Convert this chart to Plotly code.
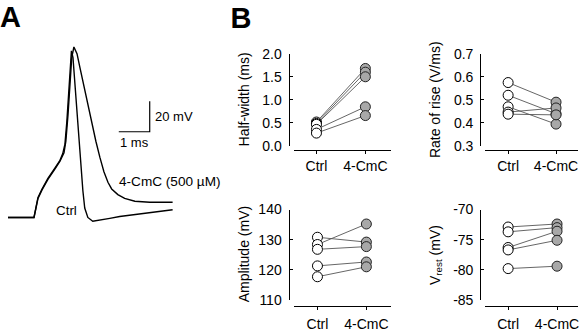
import plotly.graph_objects as go

W, H = 583, 333

# ---------------- Panel A: action potentials (time in ms, voltage in mV) ----------------
ctrl_t = [0, 0.84, 0.90, 0.97, 1.10, 1.29, 1.52, 1.68, 1.77, 1.84, 1.90, 1.97, 2.02, 2.05,
          2.10, 2.16, 2.23, 2.29, 2.35, 2.42, 2.48, 2.58, 2.74, 2.97, 3.29, 3.61, 4.10, 4.58,
          4.90, 5.32]
ctrl_v = [-75, -75, -68.8, -61.9, -56.3, -49.4, -42.5, -37.5, -33.1, -26.9, -12.5, 9.4, 26.3,
          34.4, 30.0, 12.5, -3.1, -21.9, -40.6, -57.5, -68.8, -75.0, -77.5, -76.9, -75.6, -74.4,
          -73.1, -71.9, -71.3, -70.0]
cmc_t = [0, 0.84, 0.90, 0.97, 1.10, 1.29, 1.52, 1.68, 1.81, 1.87, 1.94, 2.00, 2.06, 2.13,
         2.23, 2.32, 2.45, 2.58, 2.71, 2.84, 2.97, 3.10, 3.23, 3.35, 3.55, 3.77, 4.10, 4.58,
         5.32]
cmc_v = [-75, -75, -69.4, -62.5, -56.9, -50.0, -43.1, -38.1, -32.5, -25.0, -7.5, 12.5, 30.0,
         36.9, 32.5, 23.8, 11.3, -1.3, -13.8, -25.0, -35.6, -45.0, -51.9, -56.3, -60.0, -62.5,
         -64.4, -65.0, -65.0]
scale_ms = 1
scale_mv = 20

# ---------------- Panel B: paired measurements ----------------
conditions = ["Ctrl", "4-CmC"]
halfwidth_ctrl = [0.52, 0.49, 0.47, 0.36, 0.28]
halfwidth_cmc = [1.68, 1.60, 1.50, 0.85, 0.66]
rise_ctrl = [0.575, 0.52, 0.47, 0.447, 0.438]
rise_cmc = [0.49, 0.44, 0.395, 0.465, 0.435]
amp_ctrl = [130.8, 128.4, 126.8, 121.3, 117.7]
amp_cmc = [129.2, 135.2, 127.7, 122.6, 121.0]
vrest_ctrl = [-72.9, -73.7, -76.3, -76.7, -79.8]
vrest_cmc = [-72.4, -73.0, -73.6, -75.1, -79.4]

hw_ticks = [0.0, 0.5, 1.0, 1.5, 2.0]
rise_ticks = [0.3, 0.4, 0.5, 0.6, 0.7]
amp_ticks = [110, 120, 130, 140]
vrest_ticks = [-85, -80, -75, -70]
vrest_ticktext = ["-85", "-80", "-75", "-70"]

FONT = "Arial, Liberation Sans, sans-serif"


def px(x):
    return x / W


def py(y):
    return 1 - y / H


# pixel -> panel A data coordinates (31 px per ms, 1.6 px per mV)
def a_t(xpix):
    return (xpix - 8) / 31


def a_v(ypix):
    return -75 + (220 - ypix) * 0.625


fig = go.Figure()

# Panel A traces
fig.add_trace(go.Scatter(x=ctrl_t, y=ctrl_v, mode="lines", line=dict(color="black", width=1.4),
                         xaxis="x", yaxis="y", showlegend=False, hoverinfo="skip"))
fig.add_trace(go.Scatter(x=cmc_t, y=cmc_v, mode="lines", line=dict(color="black", width=1.4),
                         xaxis="x", yaxis="y", showlegend=False, hoverinfo="skip"))
bar_t0, bar_v0 = 3.58, -18.75
fig.add_trace(go.Scatter(x=[bar_t0, bar_t0 + scale_ms, bar_t0 + scale_ms],
                         y=[bar_v0, bar_v0, bar_v0 + scale_mv], mode="lines",
                         line=dict(color="black", width=1.2), xaxis="x", yaxis="y",
                         showlegend=False, hoverinfo="skip"))

# Panel letters as text marks (annotations get pushed inside the paper)
fig.add_trace(go.Scatter(x=[a_t(0), a_t(231)], y=[a_v(12), a_v(13)], mode="text",
                         text=["<b>A</b>", "<b>B</b>"], textposition="middle right",
                         textfont=dict(size=29, family=FONT, color="black"),
                         cliponaxis=False, xaxis="x", yaxis="y", showlegend=False,
                         hoverinfo="skip"))

layout = dict(
    width=W, height=H, margin=dict(l=0, r=0, t=0, b=0, pad=0),
    paper_bgcolor="white", plot_bgcolor="rgba(0,0,0,0)", showlegend=False,
    font=dict(family=FONT, size=13, color="black"),
    xaxis=dict(domain=[0, px(270)], range=[a_t(0), a_t(270)], visible=False),
    yaxis=dict(domain=[py(240), 1], range=[a_v(240), a_v(0)], visible=False),
)

annotations = [
    dict(text="20 mV", x=bar_t0 + scale_ms + 0.12, y=bar_v0 + scale_mv / 2, xref="x", yref="y",
         xanchor="left", yanchor="middle", showarrow=False, font=dict(size=13)),
    dict(text="1 ms", x=bar_t0 + scale_ms / 2, y=bar_v0 - 7, xref="x", yref="y",
         xanchor="center", yanchor="middle", showarrow=False, font=dict(size=13)),
    dict(text="4-CmC (500 µM)", x=3.52, y=-51.3, xref="x", yref="y",
         xanchor="left", yanchor="middle", showarrow=False, font=dict(size=13.6)),
    dict(text="Ctrl", x=1.90, y=-70.6, xref="x", yref="y",
         xanchor="center", yanchor="middle", showarrow=False, font=dict(size=13.4)),
]

panels = [
    # (ctrl, cmc, ticks, ticktext, range, fmt, title, yaxis x px, y top px, y bottom px,
    #  xline y px, x left px, x right px, ctrl x px, cmc x px, xlabel standoff)
    (halfwidth_ctrl, halfwidth_cmc, hw_ticks, None, [0, 2.0], ".1f", "Half-width (ms)",
     289, 48, 145, 149, 295, 392, 317, 366, 0),
    (rise_ctrl, rise_cmc, rise_ticks, None, [0.3, 0.7], ".1f", "Rate of rise (V/ms)",
     481, 48, 145, 149, 486, 579, 509, 557, 0),
    (amp_ctrl, amp_cmc, amp_ticks, None, [110, 140], "d", "Amplitude (mV)",
     289, 211.7, 306.7, 313, 295, 392, 318, 367, 2),
    (vrest_ctrl, vrest_cmc, vrest_ticks, vrest_ticktext, [-85, -70], "d", "V<sub>rest</sub> (mV)",
     481, 211.7, 306.7, 313, 486, 579, 509, 558, 2),
]

for k, (c_vals, m_vals, ticks, ticktext, yr, fmt, title, yx, ytop, ybot, xly, xl, xr, cx, mx, so) in \
        enumerate(panels, start=2):
    xa, ya = f"x{k}", f"y{k}"
    unit = mx - cx
    xrange = [(xl - cx) / unit, (xr - cx) / unit]
    for cv, mv in zip(c_vals, m_vals):
        fig.add_trace(go.Scatter(x=[0, 1], y=[cv, mv], mode="lines",
                                 line=dict(color="#555555", width=0.9),
                                 xaxis=xa, yaxis=ya, showlegend=False, hoverinfo="skip"))
    fig.add_trace(go.Scatter(x=[0] * len(c_vals), y=c_vals, mode="markers", cliponaxis=False,
                             marker=dict(size=10, color="white", line=dict(color="black", width=1)),
                             xaxis=xa, yaxis=ya, showlegend=False))
    fig.add_trace(go.Scatter(x=[1] * len(m_vals), y=m_vals, mode="markers", cliponaxis=False,
                             marker=dict(size=10, color="#a8a8a8", line=dict(color="#222222", width=1)),
                             xaxis=xa, yaxis=ya, showlegend=False))
    yaxis = dict(domain=[py(ybot), py(ytop)], anchor="free", position=px(yx), range=yr,
                 tickvals=ticks, tickformat=fmt, showline=True, linecolor="black", linewidth=1,
                 ticks="inside", ticklen=3, tickcolor="black", tickwidth=1, showgrid=False,
                 zeroline=False, ticklabelstandoff=4, tickfont=dict(size=14, family=FONT))
    if ticktext is not None:
        yaxis["ticktext"] = ticktext
    xaxis = dict(domain=[px(xl), px(xr)], anchor="free", position=py(xly), range=xrange,
                 tickvals=[0, 1], ticktext=conditions, showline=True, linecolor="black",
                 linewidth=1, ticks="outside", ticklen=3, tickcolor="black", tickwidth=1,
                 showgrid=False, zeroline=False, ticklabelstandoff=so,
                 tickfont=dict(size=14, family=FONT))
    layout[f"xaxis{k}"] = xaxis
    layout[f"yaxis{k}"] = yaxis
    annotations.append(dict(text=title, textangle=-90, x=px(yx - 45), y=py((ytop + ybot) / 2),
                            xref="paper", yref="paper", xanchor="center", yanchor="middle",
                            showarrow=False, font=dict(size=14, family=FONT)))

layout["annotations"] = annotations
fig.update_layout(**layout)
fig.write_html("out.html")
